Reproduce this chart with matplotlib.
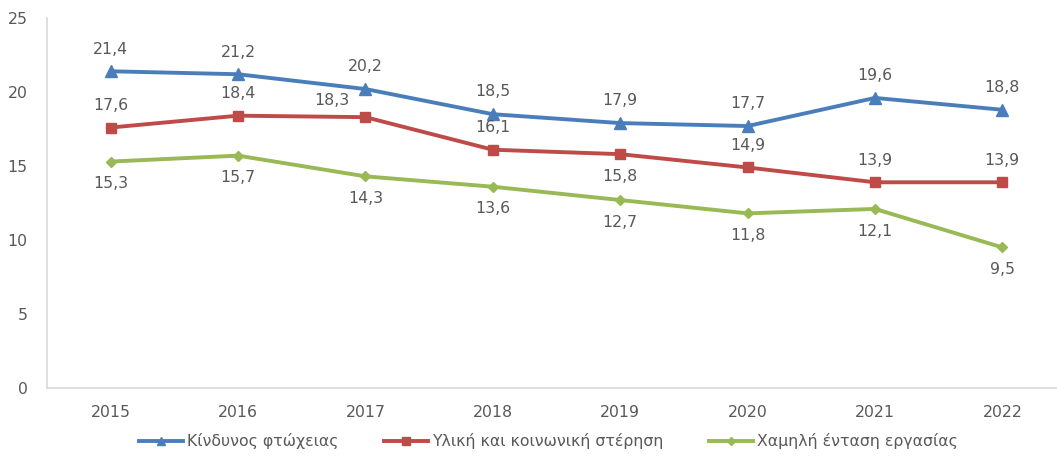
import matplotlib
matplotlib.use("Agg")
import matplotlib.pyplot as plt

plt.rcParams['font.family'] = ['DejaVu Sans']

years = ['2015', '2016', '2017', '2018', '2019', '2020', '2021', '2022']
poverty = [21.4, 21.2, 20.2, 18.5, 17.9, 17.7, 19.6, 18.8]
deprivation = [17.6, 18.4, 18.3, 16.1, 15.8, 14.9, 13.9, 13.9]
low_work = [15.3, 15.7, 14.3, 13.6, 12.7, 11.8, 12.1, 9.5]
labels = ['Κίνδυνος φτώχειας', 'Υλική και κοινωνική στέρηση', 'Χαμηλή ένταση εργασίας']
# label placement for deprivation series: 'above', 'below', 'left'
deprivation_pos = ['above', 'above', 'left', 'above', 'below', 'above', 'above', 'above']

blue = '#4A7EBB'
red = '#BE4B48'
green = '#98B954'
txt = '#595959'
fs = 11.3

fig = plt.figure(figsize=(10.57, 4.57), dpi=100)
ax = fig.add_axes([47/1057, 1-388/457, (1066-47)/1057, (388-18)/457])
x = list(range(len(years)))

l1, = ax.plot(x, poverty, color=blue, lw=2.8, marker='^', ms=8.5, label=labels[0])
l2, = ax.plot(x, deprivation, color=red, lw=2.8, marker='s', ms=7.5, label=labels[1])
l3, = ax.plot(x, low_work, color=green, lw=2.8, marker='D', ms=5.5, label=labels[2])

def fmt(v):
    return f"{v:.1f}".replace('.', ',')

offsets = {'above': (0, 16), 'below': (0, -16), 'left': (-24, 12)}

for xi, v in zip(x, poverty):
    ax.annotate(fmt(v), (xi, v), xytext=(0, 16), textcoords='offset points',
                ha='center', va='center', fontsize=fs, color=txt)
for xi, v, p in zip(x, deprivation, deprivation_pos):
    ax.annotate(fmt(v), (xi, v), xytext=offsets[p], textcoords='offset points',
                ha='center', va='center', fontsize=fs, color=txt)
for xi, v in zip(x, low_work):
    ax.annotate(fmt(v), (xi, v), xytext=(0, -16), textcoords='offset points',
                ha='center', va='center', fontsize=fs, color=txt)

ax.set_xlim(-0.5, len(years) - 0.5)
ax.set_ylim(0, 25)
ax.set_yticks([0, 5, 10, 15, 20, 25])
ax.set_xticks(x)
ax.set_xticklabels(years)
ax.tick_params(axis='both', length=0, colors=txt, labelsize=fs)
ax.tick_params(axis='y', pad=14)
ax.tick_params(axis='x', pad=12)
for s in ['top', 'right']:
    ax.spines[s].set_visible(False)
ax.spines['left'].set_color('#D9D9D9')
ax.spines['bottom'].set_color('#D9D9D9')
ax.spines['left'].set_linewidth(1.2)
ax.spines['bottom'].set_linewidth(1.2)

fig.legend(handles=[l1, l2, l3], loc='center', bbox_to_anchor=(0.519, 1-441/457),
           ncol=3, frameon=False, fontsize=fs, labelcolor=txt,
           handlelength=2.8, handletextpad=0.25, columnspacing=2.9, markerscale=0.75)

fig.savefig('out.png', dpi=100)
